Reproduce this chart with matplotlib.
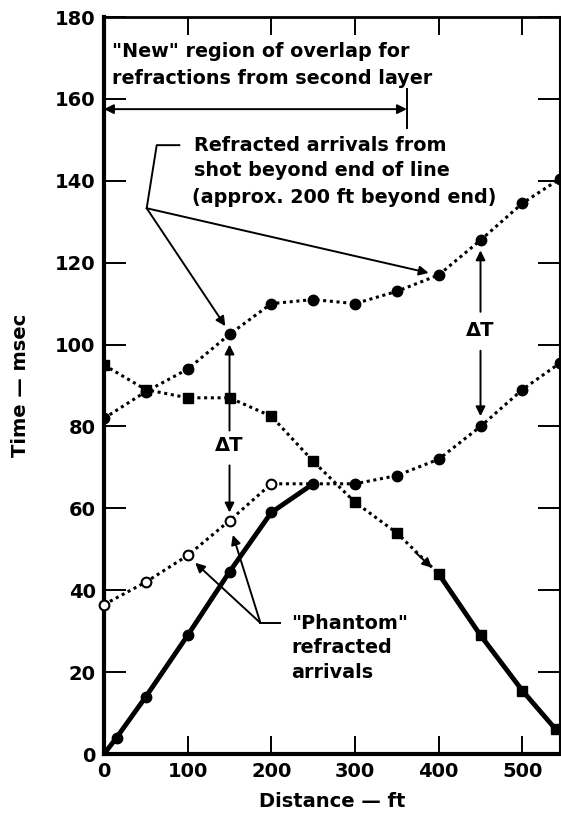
import numpy as np
import matplotlib
matplotlib.use("Agg")
import matplotlib.pyplot as plt

plt.rcParams['font.family'] = ['DejaVu Sans']
plt.rcParams['font.weight'] = 'bold'
plt.rcParams['axes.labelweight'] = 'bold'

# Direct arrivals + refractions, shot at 0 ft (solid to 250 ft, dotted after)
x_fwd = [0, 15, 50, 100, 150, 200, 250, 300, 350, 400, 450, 500, 545]
t_fwd = [0, 4, 14, 29, 44.5, 59, 66, 66, 68, 72, 80, 89, 95.5]

# Reverse shot at end of line (dotted to 400 ft, solid after)
x_rev = [0, 50, 100, 150, 200, 250, 300, 350, 400, 450, 500, 540]
t_rev = [95, 89, 87, 87, 82.5, 71.5, 61.5, 54, 44, 29, 15.5, 6]

# Refracted arrivals from shot beyond end of line
x_far = [0, 50, 100, 150, 200, 250, 300, 350, 400, 450, 500, 545]
t_far = [82, 88.5, 94, 102.5, 110, 111, 110, 113, 117, 125.5, 134.5, 140.5]

# "Phantom" refracted arrivals
x_ph = [0, 50, 100, 150, 200, 250]
t_ph = [36.5, 42, 48.5, 57, 66, 66]

fig = plt.figure(figsize=(5.61, 8.18), dpi=100)
ax = fig.add_axes([0.1854, 0.0782, 0.8128, 0.901])

dot = (0, (1, 1.2))
ax.plot(x_fwd[:7], t_fwd[:7], '-', color='k', lw=3.5)
ax.plot(x_fwd[6:], t_fwd[6:], color='k', lw=2.2, ls=dot)
ax.plot(x_fwd[1:], t_fwd[1:], 'o', color='k', ms=7.5)

ax.plot(x_rev[:9], t_rev[:9], color='k', lw=2.2, ls=dot)
ax.plot(x_rev[8:], t_rev[8:], '-', color='k', lw=3.5)
ax.plot(x_rev, t_rev, 's', color='k', ms=7)

ax.plot(x_far, t_far, color='k', lw=2.2, ls=dot)
ax.plot(x_far, t_far, 'o', color='k', ms=7.5)

ax.plot(x_ph, t_ph, color='k', lw=2.2, ls=dot)
ax.plot(x_ph[:5], t_ph[:5], 'o', mfc='white', mec='k', mew=1.5, ms=7, clip_on=False, zorder=5)

arrow = dict(arrowstyle='-|>', color='k', lw=1.4, mutation_scale=14, shrinkA=0, shrinkB=0)
fs = 13.8

# "New" region of overlap
ax.text(9, 171.5, '"New" region of overlap for', fontsize=fs, va='center')
ax.text(9, 165, 'refractions from second layer', fontsize=fs, va='center')
ax.annotate('', xy=(0, 157.5), xytext=(362, 157.5),
            arrowprops=dict(arrowstyle='<|-|>', color='k', lw=1.4, mutation_scale=14,
                            shrinkA=0, shrinkB=0))
ax.plot([362, 362], [153, 162.5], color='k', lw=1.4)

# Refracted arrivals from shot beyond end of line
ax.text(108, 148.7, 'Refracted arrivals from', fontsize=fs, va='center')
ax.text(108, 142.5, 'shot beyond end of line', fontsize=fs, va='center')
ax.text(105, 136, '(approx. 200 ft beyond end)', fontsize=fs, va='center')
ax.plot([90, 63, 51], [148.7, 148.7, 133.3], color='k', lw=1.4)
ax.annotate('', xy=(145, 104.5), xytext=(51, 133.3), arrowprops=arrow)
ax.annotate('', xy=(388, 117.5), xytext=(51, 133.3), arrowprops=arrow)

# Delta T arrows
ax.text(150, 75.3, 'ΔT', fontsize=14, ha='center', va='center')
ax.annotate('', xy=(150, 100), xytext=(150, 79), arrowprops=arrow)
ax.annotate('', xy=(150, 59), xytext=(150, 70.5), arrowprops=arrow)
ax.text(450, 103.5, 'ΔT', fontsize=14, ha='center', va='center')
ax.annotate('', xy=(450, 123), xytext=(450, 108), arrowprops=arrow)
ax.annotate('', xy=(450, 82.5), xytext=(450, 98.5), arrowprops=arrow)

# Phantom refracted arrivals
ax.text(224, 32, '"Phantom"', fontsize=fs, va='center')
ax.text(224, 26, 'refracted', fontsize=fs, va='center')
ax.text(224, 19.8, 'arrivals', fontsize=fs, va='center')
ax.plot([187, 210], [32, 32], color='k', lw=1.4)
ax.annotate('', xy=(109, 46.7), xytext=(187, 32), arrowprops=arrow)
ax.annotate('', xy=(154, 53.5), xytext=(187, 32), arrowprops=arrow)

# small arrow on the reverse dotted line
ax.annotate('', xy=(392, 45.5), xytext=(372, 49.3), arrowprops=arrow)

ax.set_xlim(0, 545)
ax.set_ylim(0, 180)
ax.set_xticks(np.arange(0, 501, 100))
ax.set_yticks(np.arange(0, 181, 20))
ax.tick_params(direction='in', length=16, width=1.4, labelsize=14, pad=6,
               top=True, right=True)
ax.tick_params(axis='x', length=13)
for side, w in [('left', 3), ('bottom', 3), ('top', 2), ('right', 1.5)]:
    ax.spines[side].set_linewidth(w)

ax.set_xlabel('Distance — ft', fontsize=14, labelpad=8)
ax.set_ylabel('Time — msec', fontsize=14, labelpad=18)

fig.savefig('out.png', dpi=100)
